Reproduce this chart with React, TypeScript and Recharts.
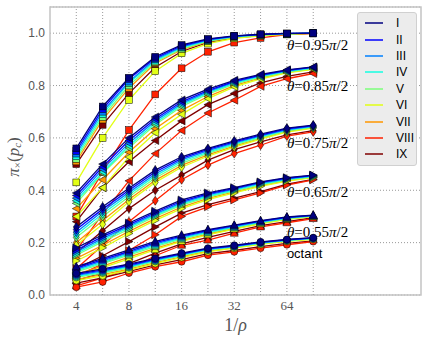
import {
  LineChart,
  Line,
  XAxis,
  YAxis,
  CartesianGrid,
  ReferenceLine,
  ReferenceArea,
  ReferenceDot,
  Legend,
} from "recharts";

// 1/rho sample points (sqrt(2) steps)
const invRho = [4, 5.66, 8, 11.31, 16, 22.63, 32, 45.25, 64, 90.51];
const xTicks = [4, 8, 16, 32, 64];
const yTicks = [0, 0.2, 0.4, 0.6, 0.8, 1.0];

const seriesNames = ["I", "II", "III", "IV", "V", "VI", "VII", "VIII", "IX"];
const seriesColors = [
  "#000080", "#0000ff", "#0080ff", "#15ffe2", "#7cff7b",
  "#e2ff15", "#ff9700", "#ff2100", "#800000",
];

// rows = series I..IX, columns = invRho
const theta095 = [
  [0.56, 0.72, 0.83, 0.91, 0.955, 0.978, 0.99, 0.996, 0.999, 1.0],
  [0.55, 0.71, 0.825, 0.905, 0.952, 0.976, 0.989, 0.995, 0.999, 1.0],
  [0.54, 0.70, 0.815, 0.9, 0.948, 0.974, 0.988, 0.995, 0.998, 1.0],
  [0.53, 0.69, 0.81, 0.895, 0.945, 0.972, 0.987, 0.994, 0.998, 1.0],
  [0.52, 0.68, 0.8, 0.89, 0.94, 0.97, 0.985, 0.993, 0.997, 1.0],
  [0.43, 0.6, 0.745, 0.855, 0.923, 0.96, 0.98, 0.99, 0.996, 0.999],
  [0.51, 0.67, 0.79, 0.885, 0.937, 0.968, 0.984, 0.992, 0.997, 1.0],
  [0.3, 0.47, 0.63, 0.766, 0.866, 0.929, 0.964, 0.982, 0.995, 0.999],
  [0.5, 0.65, 0.77, 0.87, 0.93, 0.965, 0.982, 0.991, 0.996, 0.999],
];

const theta085 = [
  [0.39, 0.5, 0.6, 0.68, 0.745, 0.786, 0.82, 0.843, 0.86, 0.871],
  [0.38, 0.49, 0.59, 0.672, 0.738, 0.781, 0.816, 0.84, 0.858, 0.87],
  [0.37, 0.48, 0.58, 0.665, 0.732, 0.777, 0.813, 0.838, 0.856, 0.869],
  [0.36, 0.47, 0.57, 0.657, 0.726, 0.772, 0.809, 0.835, 0.854, 0.867],
  [0.35, 0.465, 0.562, 0.65, 0.72, 0.767, 0.805, 0.832, 0.852, 0.866],
  [0.3, 0.41, 0.527, 0.62, 0.69, 0.75, 0.795, 0.825, 0.848, 0.862],
  [0.33, 0.44, 0.545, 0.635, 0.705, 0.758, 0.8, 0.829, 0.85, 0.864],
  [0.17, 0.31, 0.436, 0.54, 0.628, 0.695, 0.744, 0.797, 0.826, 0.846],
  [0.28, 0.41, 0.509, 0.59, 0.665, 0.727, 0.77, 0.81, 0.835, 0.852],
];

const theta075 = [
  [0.26, 0.337, 0.408, 0.477, 0.528, 0.56, 0.589, 0.614, 0.637, 0.649],
  [0.25, 0.328, 0.4, 0.47, 0.522, 0.556, 0.585, 0.611, 0.635, 0.647],
  [0.24, 0.32, 0.392, 0.462, 0.516, 0.551, 0.581, 0.608, 0.632, 0.645],
  [0.23, 0.31, 0.384, 0.455, 0.51, 0.546, 0.577, 0.605, 0.63, 0.643],
  [0.22, 0.3, 0.375, 0.447, 0.503, 0.541, 0.573, 0.601, 0.627, 0.641],
  [0.19, 0.27, 0.356, 0.43, 0.488, 0.53, 0.565, 0.595, 0.622, 0.637],
  [0.2, 0.285, 0.365, 0.438, 0.495, 0.535, 0.569, 0.598, 0.625, 0.639],
  [0.1, 0.19, 0.28, 0.36, 0.44, 0.496, 0.54, 0.572, 0.607, 0.623],
  [0.16, 0.245, 0.33, 0.4, 0.458, 0.515, 0.555, 0.585, 0.612, 0.628],
];

const theta065 = [
  [0.18, 0.23, 0.275, 0.32, 0.363, 0.39, 0.41, 0.432, 0.448, 0.458],
  [0.172, 0.223, 0.269, 0.315, 0.358, 0.386, 0.407, 0.43, 0.446, 0.457],
  [0.165, 0.216, 0.263, 0.31, 0.353, 0.382, 0.404, 0.427, 0.444, 0.455],
  [0.158, 0.21, 0.257, 0.305, 0.348, 0.378, 0.401, 0.424, 0.442, 0.453],
  [0.152, 0.204, 0.251, 0.3, 0.343, 0.374, 0.398, 0.421, 0.44, 0.451],
  [0.13, 0.18, 0.235, 0.285, 0.33, 0.364, 0.39, 0.415, 0.435, 0.448],
  [0.14, 0.19, 0.243, 0.292, 0.336, 0.369, 0.394, 0.418, 0.437, 0.45],
  [0.07, 0.12, 0.17, 0.23, 0.3, 0.337, 0.363, 0.39, 0.42, 0.44],
  [0.1, 0.15, 0.204, 0.26, 0.313, 0.345, 0.37, 0.395, 0.423, 0.442],
];

const theta055 = [
  [0.108, 0.14, 0.172, 0.205, 0.229, 0.25, 0.267, 0.284, 0.298, 0.305],
  [0.103, 0.135, 0.167, 0.2, 0.225, 0.247, 0.265, 0.282, 0.297, 0.304],
  [0.098, 0.13, 0.162, 0.195, 0.221, 0.244, 0.262, 0.28, 0.295, 0.303],
  [0.093, 0.125, 0.157, 0.19, 0.217, 0.24, 0.259, 0.278, 0.294, 0.302],
  [0.088, 0.12, 0.152, 0.185, 0.213, 0.237, 0.257, 0.276, 0.292, 0.301],
  [0.075, 0.105, 0.138, 0.173, 0.205, 0.23, 0.252, 0.272, 0.289, 0.299],
  [0.08, 0.11, 0.145, 0.178, 0.208, 0.233, 0.254, 0.274, 0.29, 0.3],
  [0.035, 0.065, 0.1, 0.15, 0.19, 0.21, 0.236, 0.26, 0.276, 0.292],
  [0.055, 0.085, 0.12, 0.16, 0.195, 0.22, 0.243, 0.265, 0.28, 0.295],
];

const octant = [
  [0.083, 0.1, 0.118, 0.14, 0.16, 0.179, 0.19, 0.203, 0.212, 0.219],
  [0.079, 0.096, 0.114, 0.137, 0.157, 0.177, 0.188, 0.201, 0.211, 0.218],
  [0.075, 0.092, 0.11, 0.134, 0.155, 0.175, 0.186, 0.2, 0.21, 0.217],
  [0.071, 0.088, 0.107, 0.131, 0.152, 0.173, 0.185, 0.198, 0.209, 0.216],
  [0.067, 0.084, 0.104, 0.128, 0.15, 0.171, 0.183, 0.197, 0.208, 0.215],
  [0.055, 0.073, 0.095, 0.12, 0.143, 0.165, 0.179, 0.193, 0.205, 0.213],
  [0.06, 0.078, 0.099, 0.124, 0.146, 0.168, 0.181, 0.195, 0.206, 0.214],
  [0.03, 0.05, 0.084, 0.108, 0.127, 0.152, 0.165, 0.179, 0.192, 0.204],
  [0.045, 0.065, 0.09, 0.115, 0.135, 0.158, 0.17, 0.185, 0.197, 0.207],
];

const groups = [
  { key: "t95", values: theta095, marker: "square" },
  { key: "t85", values: theta085, marker: "triLeft" },
  { key: "t75", values: theta075, marker: "diamond" },
  { key: "t65", values: theta065, marker: "triRight" },
  { key: "t55", values: theta055, marker: "triUp" },
  { key: "oct", values: octant, marker: "circle" },
];

const annotations = [
  { text: "0.95", y: 0.955 },
  { text: "0.85", y: 0.8 },
  { text: "0.75", y: 0.58 },
  { text: "0.65", y: 0.393 },
  { text: "0.55", y: 0.24 },
];

const X_DOMAIN = [2.83, 374];
const Y_DOMAIN = [0, 1.1];

function drawMarker(shape: string, fill: string, cx: number, cy: number, key: any) {
  const edge = { stroke: "#000", strokeWidth: 0.5, fill };
  switch (shape) {
    case "square":
      return <rect key={key} x={cx - 3.4} y={cy - 3.4} width={6.8} height={6.8} {...edge} />;
    case "triLeft":
      return <polygon key={key} points={`${cx - 4},${cy} ${cx + 3.5},${cy - 4} ${cx + 3.5},${cy + 4}`} {...edge} />;
    case "triRight":
      return <polygon key={key} points={`${cx + 4},${cy} ${cx - 3.5},${cy - 4} ${cx - 3.5},${cy + 4}`} {...edge} />;
    case "triUp":
      return <polygon key={key} points={`${cx},${cy - 4.5} ${cx - 4},${cy + 3} ${cx + 4},${cy + 3}`} {...edge} />;
    case "diamond":
      return <polygon key={key} points={`${cx},${cy - 4.5} ${cx + 3},${cy} ${cx},${cy + 4.5} ${cx - 3},${cy}`} {...edge} />;
    default:
      return <circle key={key} cx={cx} cy={cy} r={3.5} {...edge} />;
  }
}

const ThetaLabel = ({ viewBox, value }: any) => (
  <text
    x={viewBox.x}
    y={viewBox.y}
    dy="0.35em"
    fontFamily="'Liberation Serif', serif"
    fontSize={15}
    fill="#000"
  >
    <tspan fontStyle="italic">θ</tspan>
    <tspan>{"=" + value}</tspan>
    <tspan fontStyle="italic">π</tspan>
    <tspan>/2</tspan>
  </text>
);

const LegendBox = () => (
  <div
    style={{
      background: "#ececec",
      border: "1px solid #d0d0d0",
      borderRadius: 3,
      padding: "2px 0",
      fontFamily: "'Liberation Sans', Arial, sans-serif",
      fontSize: 12,
    }}
  >
    {seriesNames.map((n, i) => (
      <div key={n} style={{ display: "flex", alignItems: "center", height: 16.4 }}>
        <svg width={18} height={4} style={{ marginLeft: 7, marginRight: 13 }}>
          <line x1={0} y1={2} x2={18} y2={2} stroke={seriesColors[i]} strokeWidth={1.5} />
        </svg>
        <span>{n}</span>
      </div>
    ))}
  </div>
);

export default function App() {
  return (
    <div style={{ position: "absolute", left: 0, top: 0 }}>
      <LineChart width={427} height={339} margin={{ top: 7, right: 6, left: 0, bottom: 0 }}>
        <CartesianGrid horizontal vertical={false} stroke="#999" strokeDasharray="1 2" />
        {invRho.map((x) => (
          <ReferenceLine key={"g" + x} x={x} stroke="#999" strokeDasharray="1 2" />
        ))}
        <XAxis
          dataKey="x"
          type="number"
          scale="log"
          domain={X_DOMAIN}
          allowDataOverflow
          ticks={xTicks}
          tickLine={false}
          tickSize={3}
          tickMargin={3}
          axisLine={false}
          height={44}
          tick={{ fontFamily: "'Liberation Serif', serif", fontSize: 13, fill: "#555" }}
          label={({ viewBox }: any) => (
            <text
              x={viewBox.x + viewBox.width / 2}
              y={viewBox.y + 36}
              textAnchor="middle"
              fontFamily="'Liberation Serif', serif"
              fontSize={18}
              fill="#555"
            >
              1/<tspan fontStyle="italic">ρ</tspan>
            </text>
          )}
        />
        <YAxis
          type="number"
          domain={Y_DOMAIN}
          ticks={yTicks}
          width={50}
          tickLine={false}
          tickSize={3}
          tickMargin={2}
          axisLine={false}
          tickFormatter={(v: number) => v.toFixed(1)}
          tick={{ fontFamily: "'Liberation Sans', Arial, sans-serif", fontSize: 12, fill: "#555" }}
          label={({ viewBox }: any) => {
            const cx = viewBox.x + 13;
            const cy = viewBox.y + 150;
            return (
              <text
                x={cx}
                y={cy}
                transform={`rotate(-90, ${cx}, ${cy})`}
                textAnchor="middle"
                dominantBaseline="central"
                fontFamily="'Liberation Serif', serif"
                fontSize={17}
                fill="#555"
              >
                <tspan fontStyle="italic">π</tspan>
                <tspan fontSize={11} dy={4}>×</tspan>
                <tspan dy={-4}>(</tspan>
                <tspan fontStyle="italic">p</tspan>
                <tspan fontSize={11} fontStyle="italic" dy={4}>c</tspan>
                <tspan dy={-4}>)</tspan>
              </text>
            );
          }}
        />
        <ReferenceArea
          x1={X_DOMAIN[0]}
          x2={X_DOMAIN[1]}
          y1={Y_DOMAIN[0]}
          y2={Y_DOMAIN[1]}
          fill="none"
          stroke="#c4c4c4"
          strokeWidth={1.5}
          ifOverflow="visible"
        />
        {groups.flatMap((g) =>
          g.values
            .map((vals, si) => ({ vals, si }))
            .reverse()
            .map(({ vals, si }) => (
              <Line
                key={g.key + si}
                data={invRho.map((x, i) => ({ x, y: vals[i] }))}
                dataKey="y"
                stroke={seriesColors[si]}
                strokeWidth={1.3}
                isAnimationActive={false}
                legendType="none"
                dot={(p: any) => drawMarker(g.marker, seriesColors[si], p.cx, p.cy, p.index)}
                activeDot={false}
              />
            ))
        )}
        {annotations.map((a) => (
          <ReferenceDot
            key={a.text}
            x={64}
            y={a.y}
            r={0}
            ifOverflow="visible"
            label={(p: any) => <ThetaLabel viewBox={p.viewBox} value={a.text} />}
          />
        ))}
        <ReferenceDot
          x={64}
          y={0.16}
          r={0}
          ifOverflow="visible"
          label={(p: any) => (
            <text
              x={p.viewBox.x}
              y={p.viewBox.y}
              dy="0.35em"
              fontFamily="'Liberation Sans', Arial, sans-serif"
              fontSize={13}
              fill="#000"
            >
              octant
            </text>
          )}
        />
        <Legend
          layout="vertical"
          align="center"
          verticalAlign="middle"
          wrapperStyle={{ position: "absolute", left: 357, top: 12, width: 60 }}
          content={() => <LegendBox />}
        />
      </LineChart>
    </div>
  );
}
